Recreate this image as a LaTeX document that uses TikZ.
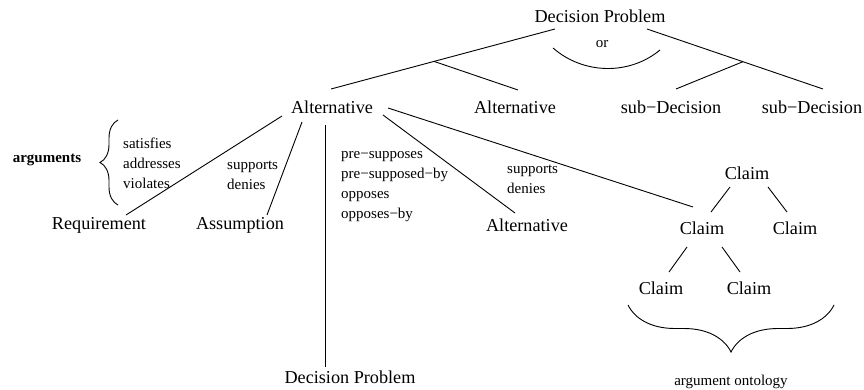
\documentclass[tikz,border=0pt]{standalone}
\usepackage{fontspec}
\setmainfont{Liberation Serif}
\usepackage{tikz}
\usetikzlibrary{calc, decorations.pathreplacing}
\tikzset{
        concept/.style={inner sep=0pt, font=\fontsize{18.2}{20}\selectfont},
        relation/.style={inner sep=0pt, align=left, anchor=west, font=\fontsize{15}{20}\selectfont},
        link/.style={line width=0.9pt},
        bracket/.style={line width=0.9pt, decorate, decoration={brace, amplitude=#1}},
    }

\begin{document}
\begin{tikzpicture}[x=1pt, y=-1pt]
        \useasboundingbox (0,0) rectangle (864,390);

        % decision problem and its alternatives
        \node[concept] (dp) at (600,16) {Decision Problem};
        \node[relation, anchor=center] (orlbl) at (602,44) {or};
        \node[concept] (alt1) at (332,107) {Alternative};
        \node[concept] (alt2) at (515,107) {Alternative};
        \node[concept] (sub1) at (671,107) {sub−Decision};
        \node[concept] (sub2) at (812,107) {sub−Decision};
        \draw[link] ($(dp)+(-45,13)$) -- coordinate[pos=0.54] (b1) ($(alt1)+(-1,-18)$);
        \draw[link] (b1) -- ($(alt2)+(3,-17)$);
        \draw[link] ($(dp)+(47,13)$) -- coordinate[pos=0.545] (b2) ($(sub2)+(11,-18)$);
        \draw[link] (b2) -- ($(sub1)+(5,-18)$);
        \draw[link] (553,48) .. controls (584,75) and (630,75) .. (660,50);

        % arguments of an alternative
        \node[relation, anchor=center] (args) at (47,160) {\textbf{arguments}};
        \draw[bracket=18] (118,205) -- (118,120);
        \node[relation] (rel1) at (123,163) {satisfies\\addresses\\violates};
        \node[relation] (rel2) at (227,175) {supports\\denies};
        \node[relation] (rel3) at (341,187) {pre−supposes\\pre−supposed−by\\opposes\\opposes−by};
        \node[relation] (rel4) at (507,179) {supports\\denies};
        \node[concept] (req) at (99,225) {Requirement};
        \node[concept] (ass) at (240,225) {Assumption};
        \node[concept] (alt3) at (527,225) {Alternative};
        \node[concept] (dp2) at (350,377) {Decision Problem};
        \draw[link] ($(alt1)+(-50,9)$) -- ($(req)+(27,-10)$);
        \draw[link] ($(alt1)+(-30,15)$) -- ($(ass)+(27,-10)$);
        \draw[link] ($(alt1)+(-7,18)$) -- ($(dp2)+(-25,-10)$);
        \draw[link] ($(alt1)+(51,8)$) -- ($(alt3)+(-12,-12)$);

        % argument ontology
        \node[concept] (c1) at (747,173) {Claim};
        \node[concept] (c2) at (702,228) {Claim};
        \node[concept] (c3) at (795,228) {Claim};
        \node[concept] (c4) at (661,288) {Claim};
        \node[concept] (c5) at (749,288) {Claim};
        \draw[link] ($(alt1)+(56,1)$) -- ($(c2)+(-9,-21)$);
        \draw[link] ($(c1)+(-17,14)$) -- ($(c2)+(9,-16)$);
        \draw[link] ($(c1)+(21,14)$) -- ($(c3)+(-8,-16)$);
        \draw[link] ($(c2)+(-15,19)$) -- ($(c4)+(8,-16)$);
        \draw[link] ($(c2)+(20,19)$) -- ($(c5)+(-9,-16)$);
        \draw[bracket=47] (834,305) -- (628,305);
        \node[relation, anchor=center] (onto) at (731,382) {argument ontology};
    \end{tikzpicture}
\end{document}
